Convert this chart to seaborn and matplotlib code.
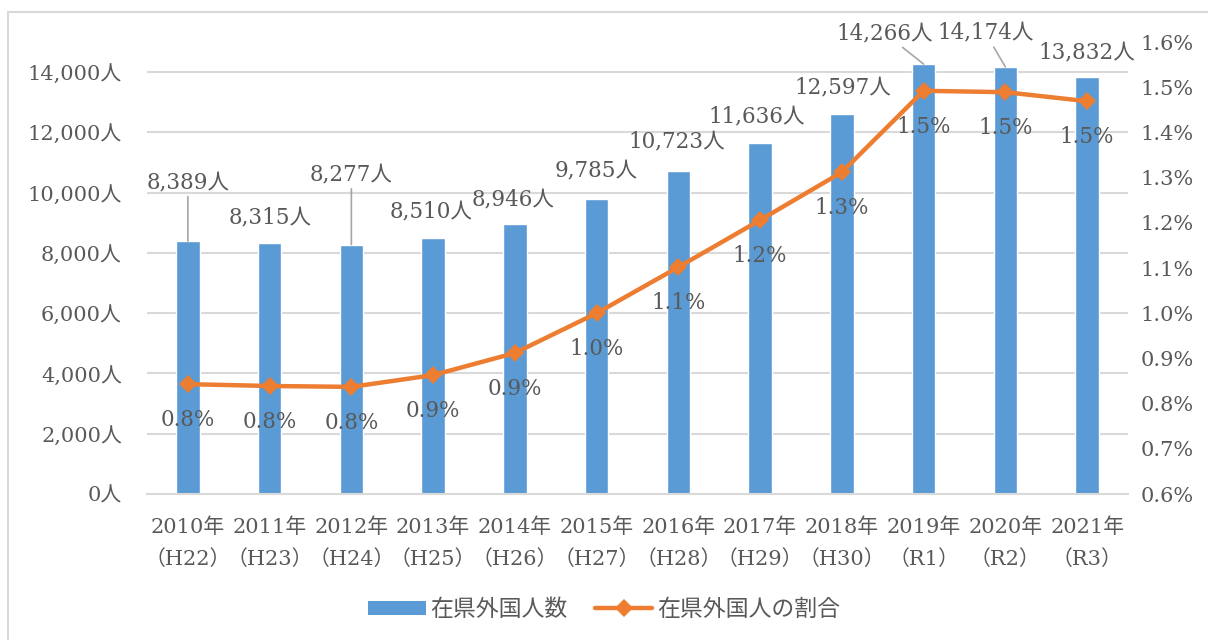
import numpy as np
import pandas as pd
import matplotlib
matplotlib.use("Agg")
import matplotlib.pyplot as plt
import seaborn as sns
from matplotlib.patches import Patch, Rectangle
from matplotlib.lines import Line2D
from matplotlib.ticker import FuncFormatter

# データ
years = ["2010年", "2011年", "2012年", "2013年", "2014年", "2015年",
         "2016年", "2017年", "2018年", "2019年", "2020年", "2021年"]
eras = ["H22", "H23", "H24", "H25", "H26", "H27",
        "H28", "H29", "H30", "R1", "R2", "R3"]
foreigners = [8389, 8315, 8277, 8510, 8946, 9785, 10723, 11636, 12597, 14266, 14174, 13832]
ratio = [0.843, 0.839, 0.837, 0.863, 0.912, 1.000, 1.102, 1.206, 1.312, 1.492, 1.489, 1.469]

bar_color = "#5B9BD5"
line_color = "#ED7D31"
text_color = "#595959"
grid_color = "#D9D9D9"

sns.set_theme(style="white")
plt.rcParams['font.family'] = ['DejaVu Serif', 'Noto Sans CJK JP']
plt.rcParams['text.color'] = text_color

labels = [f"{y}\n（{e}）" for y, e in zip(years, eras)]
df = pd.DataFrame({"label": labels, "count": foreigners, "ratio": ratio})

fig = plt.figure(figsize=(12.08, 6.4), dpi=100)
ax = fig.add_axes([147 / 1208, 1 - 494 / 640, (1128 - 147) / 1208, (494 - 42) / 640])

sns.barplot(data=df, x="label", y="count", color=bar_color, width=0.29,
            saturation=1, ax=ax)
ax.set_ylim(0, 15000)
ax.set_yticks(np.arange(0, 14001, 2000))
ax.yaxis.set_major_formatter(FuncFormatter(lambda v, p: f"{int(v):,}人"))
ax.grid(axis="y", color=grid_color, lw=1.5)
ax.set_axisbelow(True)
for s in ["top", "right", "left"]:
    ax.spines[s].set_visible(False)
ax.spines["bottom"].set_color(grid_color)
ax.spines["bottom"].set_linewidth(1.5)
ax.set_xlabel("")
ax.set_ylabel("")
ax.tick_params(axis="y", length=0, pad=18, labelsize=15, labelcolor=text_color)
ax.tick_params(axis="x", length=0, pad=17, labelsize=15, labelcolor=text_color)
for t in ax.get_xticklabels():
    t.set_linespacing(1.75)

ax2 = ax.twinx()
sns.lineplot(x=np.arange(len(ratio)), y=ratio, color=line_color, lw=3.2,
             marker="D", markersize=9, markeredgewidth=0, ax=ax2)
ax2.set_ylim(0.6, 1.6)
ax2.set_yticks(np.arange(0.6, 1.61, 0.1))
ax2.yaxis.set_major_formatter(FuncFormatter(lambda v, p: f"{v:.1f}%"))
ax2.tick_params(axis="y", length=0, pad=9, labelsize=15, labelcolor=text_color)
for s in ["top", "right", "left", "bottom"]:
    ax2.spines[s].set_visible(False)
ax2.grid(False)
ax.set_xlim(-0.5, len(years) - 0.5)

# 人数ラベル（位置は手動で調整）
bar_offsets = [(0, 59), (0, 26), (0, 70), (-2, 26), (-2, 25), (0, 29),
               (-2, 29), (-3, 27), (1, 27), (-39, 31), (-20, 34), (0, 25)]
leaders = [0, 2, 9, 10]
for i, (v, off) in enumerate(zip(foreigners, bar_offsets)):
    kw = {}
    if i in leaders:
        kw["arrowprops"] = dict(arrowstyle="-", color="#A6A6A6", lw=1.2,
                                shrinkA=0, shrinkB=0)
    ax.annotate(f"{v:,}人", xy=(i, v), xytext=off, textcoords="offset pixels",
                ha="center", va="center", fontsize=15.5, color=text_color, **kw)

# 割合ラベル
for i, r in enumerate(ratio):
    ax2.annotate(f"{r:.1f}%", xy=(i, r), xytext=(0, -36), textcoords="offset pixels",
                 ha="center", va="center", fontsize=15.5, color=text_color)

handles = [Patch(facecolor=bar_color, edgecolor="none", label="在県外国人数"),
           Line2D([], [], color=line_color, lw=3.2, marker="D", markersize=9,
                  markeredgewidth=0, label="在県外国人の割合")]
fig.legend(handles=handles, loc="center", bbox_to_anchor=(0.5, 1 - 610 / 640),
           ncol=2, frameon=False, fontsize=16.5, handlelength=2.5,
           handleheight=0.6, columnspacing=1.2, handletextpad=0.2)

fig.patches.append(Rectangle((8 / 1208, -0.1), 1.2, 0.1 + 1 - 12 / 640,
                             transform=fig.transFigure, fill=False,
                             edgecolor=grid_color, lw=1.5))

fig.savefig("out.png", dpi=100)
